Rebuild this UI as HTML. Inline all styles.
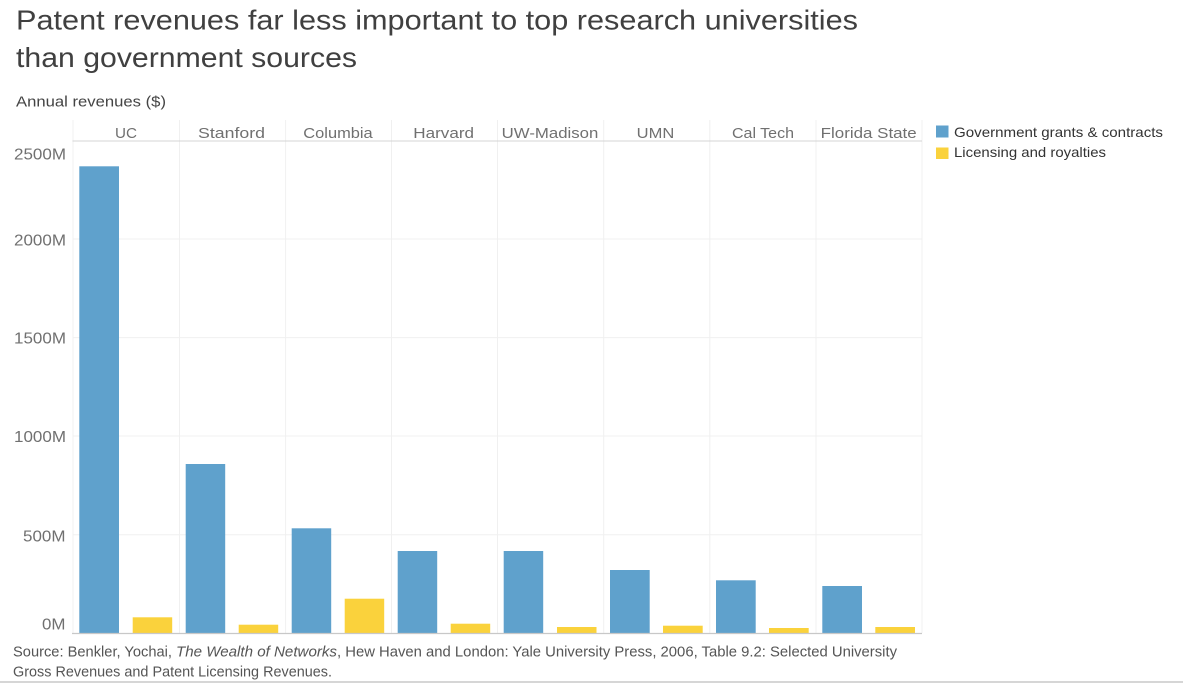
<!DOCTYPE html>
<html>
<head>
<meta charset="utf-8">
<style>
  html, body { margin:0; padding:0; background:#fff; }
  svg { display:block; }
  text { font-family: "Liberation Sans", "DejaVu Sans", sans-serif; }
</style>
</head>
<body>
<svg width="1183" height="683" viewBox="0 0 1183 683" xmlns="http://www.w3.org/2000/svg">
  <rect x="0" y="0" width="1183" height="683" fill="#ffffff"/>

  <!-- Title -->
  <text x="16" y="29.5" font-size="28" fill="#404040" textLength="842" lengthAdjust="spacingAndGlyphs">Patent revenues far less important to top research universities</text>
  <text x="16" y="67" font-size="28" fill="#404040" textLength="341" lengthAdjust="spacingAndGlyphs">than government sources</text>

  <!-- Axis title -->
  <text x="16" y="106.5" font-size="15" fill="#444444" textLength="150" lengthAdjust="spacingAndGlyphs">Annual revenues ($)</text>

  <!-- Gridlines -->
  <g stroke="#f0f0f0" stroke-width="1">
    <line x1="73" y1="239" x2="922" y2="239"/>
    <line x1="73" y1="337.6" x2="922" y2="337.6"/>
    <line x1="73" y1="436" x2="922" y2="436"/>
    <line x1="73" y1="534.7" x2="922" y2="534.7"/>
  </g>

  <!-- Column dividers -->
  <g stroke="#f0f0f0" stroke-width="1">
    <line x1="73" y1="120" x2="73" y2="633"/>
    <line x1="179.5" y1="120" x2="179.5" y2="633"/>
    <line x1="285.6" y1="120" x2="285.6" y2="633"/>
    <line x1="391.5" y1="120" x2="391.5" y2="633"/>
    <line x1="497.5" y1="120" x2="497.5" y2="633"/>
    <line x1="603.7" y1="120" x2="603.7" y2="633"/>
    <line x1="709.8" y1="120" x2="709.8" y2="633"/>
    <line x1="816" y1="120" x2="816" y2="633"/>
    <line x1="922" y1="120" x2="922" y2="633"/>
  </g>

  <!-- Header underline -->
  <line x1="72.5" y1="141" x2="922" y2="141" stroke="#d4d4d4" stroke-width="1"/>

  <!-- Column labels -->
  <g font-size="15" fill="#707070">
    <text x="115" y="138" textLength="22" lengthAdjust="spacingAndGlyphs">UC</text>
    <text x="198" y="138" textLength="67" lengthAdjust="spacingAndGlyphs">Stanford</text>
    <text x="303.3" y="138" textLength="69.4" lengthAdjust="spacingAndGlyphs">Columbia</text>
    <text x="413.3" y="138" textLength="60.7" lengthAdjust="spacingAndGlyphs">Harvard</text>
    <text x="501.7" y="138" textLength="96.6" lengthAdjust="spacingAndGlyphs">UW-Madison</text>
    <text x="636.7" y="138" textLength="37.6" lengthAdjust="spacingAndGlyphs">UMN</text>
    <text x="732" y="138" textLength="62" lengthAdjust="spacingAndGlyphs">Cal Tech</text>
    <text x="820.7" y="138" textLength="96" lengthAdjust="spacingAndGlyphs">Florida State</text>
  </g>

  <!-- Y axis labels -->
  <g font-size="15.5" fill="#707070">
    <text x="14" y="159.5" textLength="52" lengthAdjust="spacingAndGlyphs">2500M</text>
    <text x="14" y="245.7" textLength="52" lengthAdjust="spacingAndGlyphs">2000M</text>
    <text x="14" y="343.5" textLength="52" lengthAdjust="spacingAndGlyphs">1500M</text>
    <text x="14" y="442" textLength="52" lengthAdjust="spacingAndGlyphs">1000M</text>
    <text x="23" y="541.5" textLength="42.5" lengthAdjust="spacingAndGlyphs">500M</text>
    <text x="42" y="629.5" textLength="23.5" lengthAdjust="spacingAndGlyphs">0M</text>
  </g>

  <!-- Bars: government (blue) -->
  <g fill="#5fa1cc">
    <rect x="79.3" y="166.3" width="39.7" height="467"/>
    <rect x="185.7" y="464" width="39.5" height="169.3"/>
    <rect x="291.7" y="528.3" width="39.5" height="105"/>
    <rect x="397.7" y="551" width="39.5" height="82.3"/>
    <rect x="503.7" y="551" width="39.5" height="82.3"/>
    <rect x="610" y="570" width="39.7" height="63.3"/>
    <rect x="716" y="580.3" width="39.7" height="53"/>
    <rect x="822.3" y="586" width="39.7" height="47.3"/>
  </g>

  <!-- Bars: licensing (yellow) -->
  <g fill="#fad23c">
    <rect x="132.7" y="617.3" width="39.5" height="16"/>
    <rect x="238.7" y="624.7" width="39.5" height="8.6"/>
    <rect x="344.7" y="598.7" width="39.5" height="34.6"/>
    <rect x="450.7" y="623.7" width="39.5" height="9.6"/>
    <rect x="557" y="627" width="39.5" height="6.3"/>
    <rect x="663" y="625.7" width="39.7" height="7.6"/>
    <rect x="769" y="628" width="39.7" height="5.3"/>
    <rect x="875.3" y="627" width="39.7" height="6.3"/>
  </g>

  <!-- X axis line -->
  <line x1="72" y1="633.5" x2="922" y2="633.5" stroke="#c8c8c8" stroke-width="1.2"/>

  <!-- Legend -->
  <rect x="936" y="125.5" width="12.5" height="12" fill="#5fa1cc"/>
  <rect x="936" y="147.5" width="12.5" height="11.5" fill="#fad23c"/>
  <g font-size="14" fill="#333333">
    <text x="954" y="137" textLength="209" lengthAdjust="spacingAndGlyphs">Government grants &amp; contracts</text>
    <text x="954" y="157" textLength="152" lengthAdjust="spacingAndGlyphs">Licensing and royalties</text>
  </g>

  <!-- Source -->
  <g font-size="14.5" fill="#555555">
    <text x="13" y="656.7" textLength="159" lengthAdjust="spacingAndGlyphs">Source: Benkler, Yochai,</text>
    <text x="176" y="656.7" font-style="italic" textLength="161" lengthAdjust="spacingAndGlyphs">The Wealth of Networks</text>
    <text x="337" y="656.7" textLength="560" lengthAdjust="spacingAndGlyphs">, Hew Haven and London: Yale University Press, 2006, Table 9.2: Selected University</text>
    <text x="13" y="676.7" textLength="319" lengthAdjust="spacingAndGlyphs">Gross Revenues and Patent Licensing Revenues.</text>
  </g>

  <!-- Bottom border -->
  <line x1="0" y1="682" x2="1183" y2="682" stroke="#c8c8c8" stroke-width="1.5"/>
</svg>
</body>
</html>
